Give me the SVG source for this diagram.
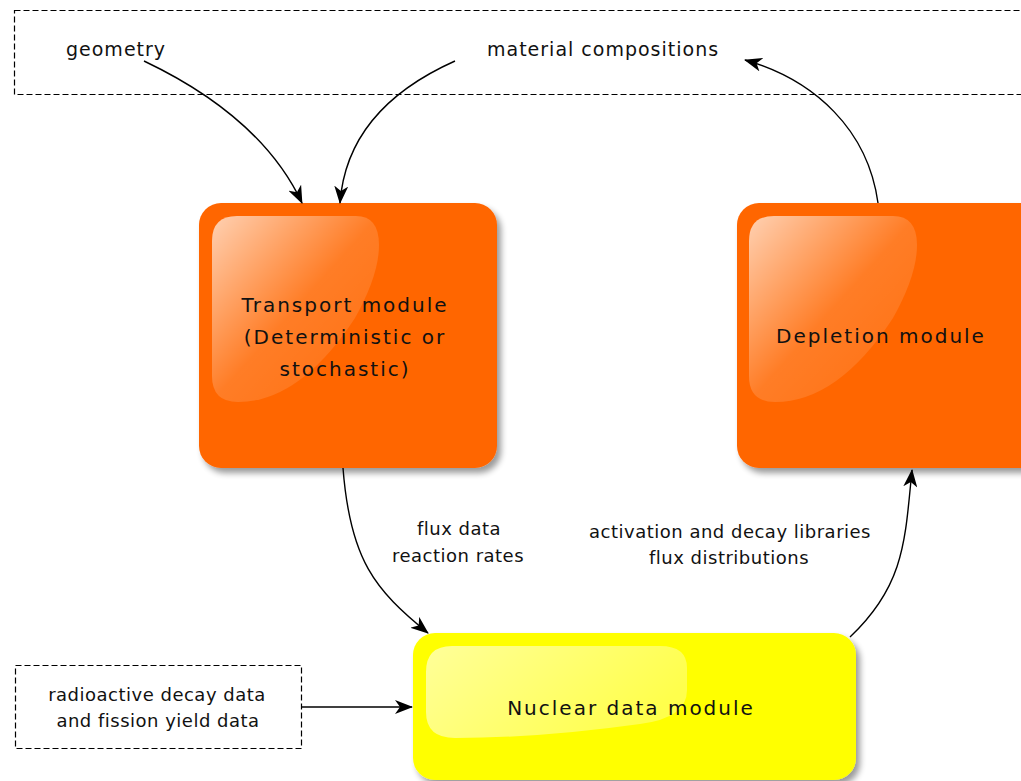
<svg xmlns="http://www.w3.org/2000/svg" width="1021" height="781" viewBox="0 0 1021 781">
<defs>
  <marker id="arrow" viewBox="0 0 18 14" refX="17" refY="7" markerWidth="18" markerHeight="14" markerUnits="userSpaceOnUse" orient="auto">
    <path d="M0,0 L18,7 L0,14 L5,7 Z" fill="#000"/>
  </marker>
  <linearGradient id="gloss" x1="0" y1="0" x2="1" y2="1">
    <stop offset="0" stop-color="#fff" stop-opacity="0.7"/>
    <stop offset="0.5" stop-color="#fff" stop-opacity="0.15"/>
    <stop offset="1" stop-color="#fff" stop-opacity="0.06"/>
  </linearGradient>
  <linearGradient id="glossY" x1="0" y1="0" x2="1" y2="0.4">
    <stop offset="0" stop-color="#fff" stop-opacity="0.6"/>
    <stop offset="1" stop-color="#fff" stop-opacity="0.3"/>
  </linearGradient>
  <filter id="shadow" x="-10%" y="-10%" width="130%" height="130%">
    <feGaussianBlur in="SourceAlpha" stdDeviation="3"/>
    <feOffset dx="4" dy="5" result="b"/>
    <feComponentTransfer><feFuncA type="linear" slope="0.4"/></feComponentTransfer>
    <feMerge><feMergeNode/><feMergeNode in="SourceGraphic"/></feMerge>
  </filter>
</defs>
<style>
  .lbl { font-family: "DejaVu Sans", Verdana, sans-serif; fill: #111; }
  .node { font-size: 20px; letter-spacing: 2px; }
  .small { font-size: 18px; letter-spacing: 0.5px; }
  .top { font-size: 19px; letter-spacing: 1px; }
  .dash { fill: none; stroke: #000; stroke-width: 1.2; stroke-dasharray: 6 3; }
  .conn { fill: none; stroke: #000; stroke-width: 1.4; marker-end: url(#arrow); }
  .orange { fill: #ff6600; }
  .yellow { fill: #ffff00; }
</style>

<g id="inputs-top">
  <rect class="dash" x="14.5" y="10.5" width="1020" height="84"/>
  <text class="lbl top" x="66" y="56">geometry</text>
  <text class="lbl top" x="487" y="56">material compositions</text>
</g>

<g id="inputs-data">
  <rect class="dash" x="15.5" y="665.5" width="286" height="83"/>
  <text class="lbl small" x="157" y="701" text-anchor="middle">radioactive decay data</text>
  <text class="lbl small" x="158" y="727" text-anchor="middle">and fission yield data</text>
</g>

<g id="transport">
  <rect class="orange" x="199" y="203" width="298" height="265" rx="22" filter="url(#shadow)"/>
  <path d="M237,216 H356 Q379,216 379,245 Q379,275 355,318 Q300,402 238,402 Q212,402 212,376 V241 Q212,216 237,216 Z" fill="url(#gloss)"/>
  <text class="lbl node" x="345" y="312" text-anchor="middle">Transport module</text>
  <text class="lbl node" x="345" y="344" text-anchor="middle">(Deterministic or</text>
  <text class="lbl node" x="345" y="376" text-anchor="middle">stochastic)</text>
</g>

<g id="depletion">
  <rect class="orange" x="737" y="203" width="310" height="265" rx="22" filter="url(#shadow)"/>
  <path d="M774,216 H893 Q917,216 917,245 Q917,275 893,318 Q838,402 775,402 Q749,402 749,376 V241 Q749,216 774,216 Z" fill="url(#gloss)"/>
  <text class="lbl node" x="881" y="343" text-anchor="middle">Depletion module</text>
</g>

<g id="nuclear">
  <rect class="yellow" x="413" y="633" width="443" height="147" rx="22" filter="url(#shadow)"/>
  <path d="M452,646 H660 Q687,646 687,668 V690 Q687,718 640,724 Q540,738 455,738 Q426,738 426,712 V672 Q426,646 452,646 Z" fill="url(#glossY)"/>
  <text class="lbl node" x="631" y="715" text-anchor="middle">Nuclear data module</text>
</g>

<g id="connectors">
  <path class="conn" d="M144,61 C205,90 270,135 302,203"/>
  <path class="conn" d="M455,61 C390,90 345,135 340,203"/>
  <path class="conn" d="M878,203 C868,130 815,80 745,60"/>
  <path class="conn" d="M343,468 C350,560 375,590 428,633"/>
  <path class="conn" d="M850,637 C905,585 905,540 912,470"/>
  <path class="conn" d="M302,707 H412"/>
  <text class="lbl small" x="459" y="535" text-anchor="middle">flux data</text>
  <text class="lbl small" x="458" y="562" text-anchor="middle">reaction rates</text>
  <text class="lbl small" x="730" y="538" text-anchor="middle">activation and decay libraries</text>
  <text class="lbl small" x="729" y="564" text-anchor="middle">flux distributions</text>
</g>
</svg>
